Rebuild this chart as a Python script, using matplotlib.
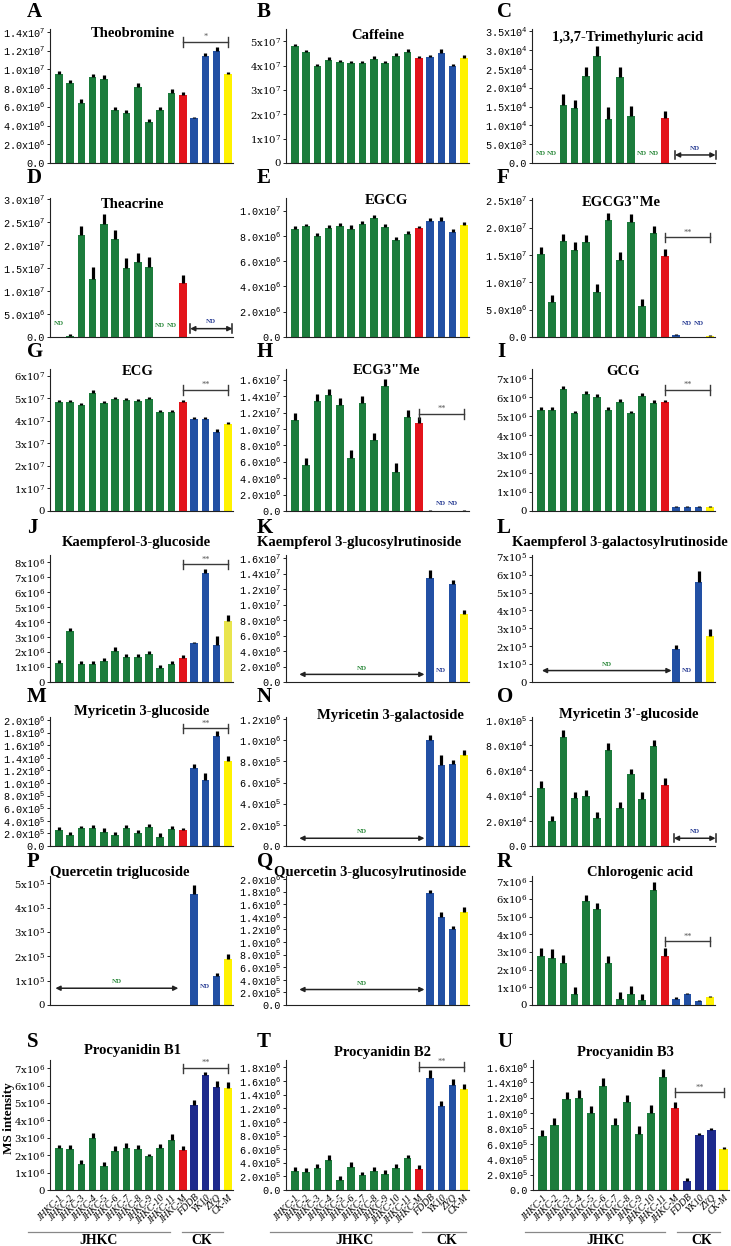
import numpy as np
import matplotlib.pyplot as plt
import matplotlib.transforms as mtransforms

plt.rcParams['font.family'] = ['Liberation Serif', 'DejaVu Serif']
plt.rcParams['mathtext.default'] = 'regular'

W, H = 731, 1246
nan = np.nan

samples = ['JHKC-1', 'JHKC-2', 'JHKC-3', 'JHKC-4', 'JHKC-5', 'JHKC-6', 'JHKC-7',
           'JHKC-8', 'JHKC-9', 'JHKC-10', 'JHKC-11', 'JHKC-M', 'FDDB', 'YK10', 'ZYQ', 'CK-M']

# values, nan = ND
theobromine = [9.5e6, 8.5e6, 6.45e6, 9.2e6, 9.0e6, 5.65e6, 5.3e6, 8.15e6, 4.35e6, 5.65e6, 7.5e6, 7.3e6, 4.75e6, 11.4e6, 12.0e6, 9.5e6]
theobromine_err = [0.35e6, 0.35e6, 0.35e6, 0.35e6, 0.35e6, 0.3e6, 0.35e6, 0.35e6, 0.35e6, 0.35e6, 0.35e6, 0.3e6, 0.2e6, 0.3e6, 0.35e6, 0.25e6]
caffeine = [4.8e7, 4.55e7, 3.98e7, 4.24e7, 4.14e7, 4.1e7, 4.1e7, 4.27e7, 4.1e7, 4.39e7, 4.55e7, 4.31e7, 4.35e7, 4.52e7, 3.97e7, 4.32e7]
caffeine_err = [0.1e7, 0.1e7, 0.1e7, 0.1e7, 0.1e7, 0.1e7, 0.1e7, 0.12e7, 0.1e7, 0.12e7, 0.12e7, 0.08e7, 0.08e7, 0.15e7, 0.1e7, 0.1e7]
trimethyluric = [nan, nan, 15.4e3, 14.6e3, 23.2e3, 28.4e3, 11.8e3, 22.8e3, 12.6e3, nan, nan, 11.9e3, nan, nan, nan, nan]
trimethyluric_err = [0, 0, 2.8e3, 2.1e3, 2.4e3, 2.6e3, 3.0e3, 2.7e3, 2.6e3, 0, 0, 2.0e3, 0, 0, 0, 0]
theacrine = [nan, 0.2e6, 22.3e6, 12.7e6, 24.6e6, 21.4e6, 15.1e6, 16.4e6, 15.3e6, nan, nan, 11.8e6, nan, nan, nan, nan]
theacrine_err = [0, 0.4e6, 1.9e6, 2.5e6, 2.2e6, 2.0e6, 2.2e6, 2.0e6, 2.1e6, 0, 0, 1.8e6, 0, 0, 0, 0]
egcg = [8.55e6, 8.78e6, 8.0e6, 8.65e6, 8.8e6, 8.58e6, 8.98e6, 9.44e6, 8.7e6, 7.68e6, 8.17e6, 8.65e6, 9.16e6, 9.18e6, 8.32e6, 8.9e6]
egcg_err = [0.2e6, 0.2e6, 0.25e6, 0.2e6, 0.2e6, 0.25e6, 0.2e6, 0.25e6, 0.25e6, 0.25e6, 0.2e6, 0.12e6, 0.25e6, 0.3e6, 0.2e6, 0.2e6]
egcg3me = [15.1e6, 6.4e6, 17.5e6, 15.9e6, 17.3e6, 8.3e6, 21.3e6, 14.1e6, 21.1e6, 5.6e6, 19.0e6, 14.8e6, 0.3e6, nan, nan, 0.1e6]
egcg3me_err = [1.4e6, 1.3e6, 1.3e6, 1.4e6, 1.3e6, 1.3e6, 1.3e6, 1.4e6, 1.3e6, 1.3e6, 1.3e6, 1.3e6, 0.3e6, 0, 0, 0.25e6]
ecg = [4.83e7, 4.83e7, 4.69e7, 5.25e7, 4.8e7, 4.95e7, 4.91e7, 4.88e7, 4.95e7, 4.39e7, 4.39e7, 4.83e7, 4.06e7, 4.06e7, 3.5e7, 3.86e7]
ecg_err = [0.1e7, 0.1e7, 0.1e7, 0.1e7, 0.1e7, 0.1e7, 0.1e7, 0.1e7, 0.1e7, 0.1e7, 0.08e7, 0.08e7, 0.1e7, 0.1e7, 0.15e7, 0.1e7]
ecg3me = [11.1e6, 5.56e6, 13.4e6, 14.1e6, 12.9e6, 6.5e6, 13.2e6, 8.7e6, 15.2e6, 4.8e6, 11.4e6, 10.7e6, 0.05e6, nan, nan, 0.05e6]
ecg3me_err = [0.9e6, 0.85e6, 0.85e6, 0.8e6, 0.85e6, 0.9e6, 0.85e6, 0.8e6, 0.9e6, 1.0e6, 0.9e6, 0.8e6, 0.05e6, 0, 0, 0.05e6]
gcg = [5.32e6, 5.36e6, 6.44e6, 5.15e6, 6.2e6, 6.02e6, 5.32e6, 5.76e6, 5.15e6, 6.06e6, 5.71e6, 5.74e6, 0.2e6, 0.2e6, 0.2e6, 0.22e6]
gcg_err = [0.15e6, 0.15e6, 0.15e6, 0.15e6, 0.15e6, 0.15e6, 0.15e6, 0.15e6, 0.15e6, 0.15e6, 0.15e6, 0.12e6, 0.05e6, 0.05e6, 0.05e6, 0.06e6]
kae_glc = [1.27e6, 3.4e6, 1.18e6, 1.18e6, 1.4e6, 2.1e6, 1.67e6, 1.67e6, 1.9e6, 0.96e6, 1.18e6, 1.62e6, 2.6e6, 7.3e6, 2.5e6, 4.1e6]
kae_glc_err = [0.2e6, 0.2e6, 0.2e6, 0.2e6, 0.2e6, 0.25e6, 0.2e6, 0.2e6, 0.2e6, 0.2e6, 0.2e6, 0.2e6, 0.1e6, 0.25e6, 0.6e6, 0.4e6]
kae_glcrut = [nan, nan, nan, nan, nan, nan, nan, nan, nan, nan, nan, nan, 13.45e6, nan, 12.7e6, 8.77e6]
kae_glcrut_err = [0, 0, 0, 0, 0, 0, 0, 0, 0, 0, 0, 0, 1.0e6, 0, 0.5e6, 0.55e6]
kae_galrut = [nan, nan, nan, nan, nan, nan, nan, nan, nan, nan, nan, nan, 1.85e5, nan, 5.6e5, 2.55e5]
kae_galrut_err = [0, 0, 0, 0, 0, 0, 0, 0, 0, 0, 0, 0, 0.2e5, 0, 0.6e5, 0.4e5]
myr_glc = [0.25e6, 0.17e6, 0.28e6, 0.28e6, 0.23e6, 0.17e6, 0.28e6, 0.2e6, 0.3e6, 0.15e6, 0.27e6, 0.25e6, 1.24e6, 1.05e6, 1.75e6, 1.35e6]
myr_glc_err = [0.05e6, 0.05e6, 0.04e6, 0.05e6, 0.05e6, 0.05e6, 0.05e6, 0.06e6, 0.05e6, 0.05e6, 0.04e6, 0.03e6, 0.07e6, 0.11e6, 0.08e6, 0.08e6]
myr_gal = [nan, nan, nan, nan, nan, nan, nan, nan, nan, nan, nan, nan, 1.0e6, 0.77e6, 0.78e6, 0.86e6]
myr_gal_err = [0, 0, 0, 0, 0, 0, 0, 0, 0, 0, 0, 0, 0.05e6, 0.09e6, 0.03e6, 0.05e6]
myr_3pglc = [4.6e4, 2.0e4, 8.67e4, 3.85e4, 3.97e4, 2.2e4, 7.6e4, 3.0e4, 5.7e4, 3.77e4, 7.95e4, 4.87e4, nan, nan, nan, nan]
myr_3pglc_err = [0.55e4, 0.35e4, 0.56e4, 0.45e4, 0.5e4, 0.5e4, 0.55e4, 0.5e4, 0.45e4, 0.5e4, 0.5e4, 0.5e4, 0, 0, 0, 0]
que_triglc = [nan, nan, nan, nan, nan, nan, nan, nan, nan, nan, nan, nan, 4.55e5, nan, 1.2e5, 1.9e5]
que_triglc_err = [0, 0, 0, 0, 0, 0, 0, 0, 0, 0, 0, 0, 0.4e5, 0, 0.12e5, 0.2e5]
que_glcrut = [nan, nan, nan, nan, nan, nan, nan, nan, nan, nan, nan, nan, 1.78e6, 1.4e6, 1.2e6, 1.48e6]
que_glcrut_err = [0, 0, 0, 0, 0, 0, 0, 0, 0, 0, 0, 0, 0.04e6, 0.08e6, 0.06e6, 0.08e6]
chlorogenic = [2.8e6, 2.65e6, 2.4e6, 0.65e6, 5.9e6, 5.45e6, 2.4e6, 0.35e6, 0.65e6, 0.3e6, 6.5e6, 2.8e6, 0.35e6, 0.6e6, 0.25e6, 0.45e6]
chlorogenic_err = [0.45e6, 0.5e6, 0.45e6, 0.35e6, 0.35e6, 0.35e6, 0.4e6, 0.4e6, 0.4e6, 0.3e6, 0.45e6, 0.45e6, 0.08e6, 0.1e6, 0.06e6, 0.06e6]
proc_b1 = [2.4e6, 2.35e6, 1.5e6, 3.0e6, 1.4e6, 2.25e6, 2.4e6, 2.35e6, 1.95e6, 2.4e6, 2.9e6, 2.3e6, 4.9e6, 6.6e6, 5.9e6, 5.85e6]
proc_b1_err = [0.2e6, 0.25e6, 0.2e6, 0.25e6, 0.2e6, 0.25e6, 0.3e6, 0.25e6, 0.1e6, 0.25e6, 0.3e6, 0.2e6, 0.3e6, 0.2e6, 0.35e6, 0.35e6]
proc_b2 = [2.83e5, 2.7e5, 3.2e5, 4.45e5, 1.45e5, 3.45e5, 2.2e5, 2.8e5, 2.4e5, 3.3e5, 4.7e5, 3.1e5, 16.5e5, 12.4e5, 15.5e5, 14.9e5]
proc_b2_err = [0.6e5, 0.6e5, 0.6e5, 0.7e5, 0.6e5, 0.6e5, 0.5e5, 0.6e5, 0.6e5, 0.5e5, 0.5e5, 0.5e5, 1.1e5, 0.7e5, 0.8e5, 0.7e5]
proc_b3 = [7.0e5, 8.4e5, 11.8e5, 11.95e5, 10.0e5, 13.5e5, 8.4e5, 11.4e5, 7.3e5, 10.0e5, 14.7e5, 10.6e5, 1.2e5, 7.1e5, 7.75e5, 5.35e5]
proc_b3_err = [0.8e5, 1.0e5, 1.0e5, 1.1e5, 0.9e5, 1.0e5, 0.9e5, 0.9e5, 1.0e5, 1.0e5, 1.0e5, 0.8e5, 0.4e5, 0.3e5, 0.25e5, 0.3e5]

GREEN, RED, BLUE, NAVY, YELLOW = '#1c7c3c', '#e3141b', '#2250a4', '#1e2a8c', '#fff200'
NDG, NDB = '#2e8b3e', '#2b3f95'
std_cols = [GREEN] * 11 + [RED] + [BLUE] * 3 + [YELLOW]
navy_cols = [GREEN] * 11 + [RED] + [NAVY] * 3 + [YELLOW]
j_cols = [GREEN] * 11 + [RED] + [BLUE] * 3 + ['#e9e54e']

col_x = [50, 286, 532]
row_y = [(29, 163), (198, 337), (369, 511), (555, 682), (717, 846), (876, 1005), (1060, 1190)]
letter_x = [27, 257, 497]
letter_y = [12, 178, 352, 528, 697, 862, 1042]

panels = [
    dict(L='A', t='Theobromine', v=theobromine, e=theobromine_err, ytop=1.43e7, tt=1.4e7, st=2e6, fmt='dec', tp=(0.45, 0.97), br=(1.29e7, '*')),
    dict(L='B', t='Caffeine', v=caffeine, e=caffeine_err, ytop=5.5e7, tt=5e7, st=1e7, fmt='int', tp=(0.5, 0.955)),
    dict(L='C', t='1,3,7-Trimethyluric acid', v=trimethyluric, e=trimethyluric_err, ytop=3.56e4, tt=3.5e4, st=5e3, fmt='dec', tp=(0.52, 0.94),
         nd=[(0, .07, NDG), (1, .07, NDG), (9, .07, NDG), (10, .07, NDG)], span=(11.9, 15.5, .06, NDB, True)),
    dict(L='D', t='Theacrine', v=theacrine, e=theacrine_err, ytop=3.03e7, tt=3e7, st=5e6, fmt='dec', tp=(0.45, 0.95),
         nd=[(0, .1, NDG), (9, .08, NDG), (10, .08, NDG)], span=(11.65, 15.4, .06, NDB, True)),
    dict(L='E', t='EGCG', v=egcg, e=egcg_err, ytop=1.1e7, tt=1e7, st=2e6, fmt='dec', tp=(0.55, 0.985)),
    dict(L='F', t='EGCG3"Me', v=egcg3me, e=egcg3me_err, ytop=2.54e7, tt=2.5e7, st=5e6, fmt='dec', tp=(0.49, 0.97), br=(1.82e7, '**'),
         nd=[(13, .1, NDB), (14, .1, NDB)]),
    dict(L='G', t='ECG', v=ecg, e=ecg_err, ytop=6.3e7, tt=6e7, st=1e7, fmt='int', tp=(0.48, 0.98), br=(5.37e7, '**')),
    dict(L='H', t='ECG3"Me', v=ecg3me, e=ecg3me_err, ytop=1.73e7, tt=1.6e7, st=2e6, fmt='dec', tp=(0.55, 0.99), br=(1.18e7, '**'),
         nd=[(13, .05, NDB), (14, .05, NDB)]),
    dict(L='I', t='GCG', v=gcg, e=gcg_err, ytop=7.5e6, tt=7e6, st=1e6, fmt='int', tp=(0.5, 0.98), br=(6.4e6, '**')),
    dict(L='J', t='Kaempferol-3-glucoside', v=kae_glc, e=kae_glc_err, ytop=8.5e6, tt=8e6, st=1e6, fmt='int', tp=(0.47, 1.1), br=(7.87e6, '**'), cols=j_cols),
    dict(L='K', t='Kaempferol 3-glucosylrutinoside', v=kae_glcrut, e=kae_glcrut_err, ytop=1.64e7, tt=1.6e7, st=2e6, fmt='dec', tp=(0.4, 1.1),
         nd=[(13, .09, NDB)], span=(0.4, 11.5, .06, NDG, False)),
    dict(L='L', t='Kaempferol 3-galactosylrutinoside', v=kae_galrut, e=kae_galrut_err, ytop=7.1e5, tt=7e5, st=1e5, fmt='int', tp=(0.48, 1.1),
         nd=[(13, .09, NDB)], span=(0.1, 11.6, .09, NDG, False)),
    dict(L='M', t='Myricetin 3-glucoside', v=myr_glc, e=myr_glc_err, ytop=2.05e6, tt=2e6, st=2e5, fmt='dec', tp=(0.5, 1.04), br=(1.87e6, '**')),
    dict(L='N', t='Myricetin 3-galactoside', v=myr_gal, e=myr_gal_err, ytop=1.22e6, tt=1.2e6, st=2e5, fmt='dec', tp=(0.57, 1.01),
         span=(0.4, 11.5, .06, NDG, False)),
    dict(L='O', t="Myricetin 3'-glucoside", v=myr_3pglc, e=myr_3pglc_err, ytop=1.025e5, tt=1e5, st=2e4, fmt='dec', tp=(0.53, 1.02),
         span=(11.8, 15.5, .06, NDB, True)),
    dict(L='P', t='Quercetin triglucoside', v=que_triglc, e=que_triglc_err, ytop=5.3e5, tt=5e5, st=1e5, fmt='int', tp=(0.38, 1.03),
         nd=[(13, .14, NDB)], span=(-0.3, 10.6, .13, NDG, False)),
    dict(L='Q', t='Quercetin 3-glucosylrutinoside', v=que_glcrut, e=que_glcrut_err, ytop=2.05e6, tt=2e6, st=2e5, fmt='dec', tp=(0.46, 1.03),
         span=(0.4, 11.5, .12, NDG, False)),
    dict(L='R', t='Chlorogenic acid', v=chlorogenic, e=chlorogenic_err, ytop=7.3e6, tt=7e6, st=1e6, fmt='int', tp=(0.59, 1.03), br=(3.6e6, '**')),
    dict(L='S', t='Procyanidin B1', v=proc_b1, e=proc_b1_err, ytop=7.47e6, tt=7e6, st=1e6, fmt='int', tp=(0.45, 1.07), br=(7.0e6, '**'),
         cols=navy_cols, grp=(-2.73, 9.86, 3.57, 10.93, 14.56, 12.7)),
    dict(L='T', t='Procyanidin B2', v=proc_b2, e=proc_b2_err, ytop=1.91e6, tt=1.8e6, st=2e5, fmt='dec', tp=(0.53, 1.06), br=(1.81e6, '**'),
         grp=(-2.2, 10.4, 5.34, 11.28, 15.18, 13.5)),
    dict(L='U', t='Procyanidin B3', v=proc_b3, e=proc_b3_err, ytop=1.69e6, tt=1.6e6, st=2e5, fmt='dec', tp=(0.47, 1.06), br=(1.27e6, '**'),
         cols=navy_cols, grp=(-1.44, 10.15, 5.26, 11.14, 14.7, 13.2), wid=196),
]


def tick_label(v, style):
    if v == 0:
        return '0.0' if style == 'dec' else '0'
    ex = int(np.floor(np.log10(v) + 1e-9))
    m = v / 10 ** ex
    if style == 'dec':
        return f'{m:.1f}x10$^{{{ex}}}$'
    return f'{m:.0f}x10$^{{{ex}}}$'


fig = plt.figure(figsize=(W / 100, H / 100), dpi=100)

for k, p in enumerate(panels):
    r, c = divmod(k, 3)
    top, bot = row_y[r]
    x0 = col_x[c] + (1 if p.get('wid') else 0)
    w = p.get('wid', 183)
    ax = fig.add_axes([x0 / W, 1 - bot / H, w / W, (bot - top) / H])
    blend = mtransforms.blended_transform_factory(ax.transData, ax.transAxes)

    vals = np.array(p['v'], float)
    errs = np.array(p['e'], float)
    cols = np.array(p.get('cols', std_cols))
    x = np.arange(len(vals))
    ok = ~np.isnan(vals)
    ax.bar(x[ok], vals[ok], width=0.68, color=cols[ok], zorder=2)
    ax.errorbar(x[ok], vals[ok], yerr=[np.zeros(ok.sum()), errs[ok]], fmt='none',
                ecolor='black', elinewidth=2.3, capsize=0, zorder=3)

    ax.set_xlim(-0.78, 15.45)
    ax.set_ylim(0, p['ytop'])
    ticks = np.arange(0, p['tt'] + p['st'] / 2, p['st'])
    ax.set_yticks(ticks)
    fam = 'Liberation Mono' if p['fmt'] == 'dec' else 'DejaVu Serif'
    ax.set_yticklabels([tick_label(t, p['fmt']) for t in ticks], fontsize=7.3, family=fam)
    ax.tick_params(axis='y', length=2.5, width=0.6, pad=1)
    for s in ('top', 'right'):
        ax.spines[s].set_visible(False)
    for s in ('left', 'bottom'):
        ax.spines[s].set_linewidth(0.8)
        ax.spines[s].set_color('#222')

    if 'grp' in p:
        ax.set_xticks(x)
        ax.set_xticklabels(samples, rotation=45, ha='right', va='top', rotation_mode='anchor',
                           fontstyle='italic', fontsize=7)
        ax.tick_params(axis='x', length=0, pad=2)
        jx0, jx1, jt, cx0, cx1, ct = p['grp']
        for a, b in ((jx0, jx1), (cx0, cx1)):
            ax.plot([a, b], [-0.323, -0.323], transform=blend, clip_on=False, color='#888', lw=0.9)
        ax.text(jt, -0.385, 'JHKC', transform=blend, ha='center', va='center', fontsize=10, fontweight='bold')
        ax.text(ct, -0.385, 'CK', transform=blend, ha='center', va='center', fontsize=10, fontweight='bold')
    else:
        ax.set_xticks([])

    ax.text(p['tp'][0], p['tp'][1], p['t'], transform=ax.transAxes, ha='center', va='center',
            fontsize=10.5, fontweight='bold')

    if 'br' in p:
        by, lab = p['br']
        d = p['ytop'] * 0.035
        ax.plot([11, 15], [by, by], color='#3a3a3a', lw=1.0, zorder=4)
        for bx in (11, 15):
            ax.plot([bx, bx], [by - d, by + d], color='#3a3a3a', lw=1.0, zorder=4)
        ax.text(13, by + d * 0.2, lab, ha='center', va='bottom', fontsize=6, color='#555')

    for i, yf, colr in p.get('nd', []):
        ax.text(i, yf, 'ND', transform=blend, ha='center', va='center', fontsize=5,
                fontweight='bold', color=colr)

    if 'span' in p:
        a, b, yf, colr, ends = p['span']
        ax.annotate('', xy=(b, yf), xytext=(a, yf), xycoords=blend, textcoords=blend,
                    arrowprops=dict(arrowstyle='<|-|>', color='#222', lw=1.1, mutation_scale=7,
                                    shrinkA=0, shrinkB=0))
        if ends:
            for xx in (a, b):
                ax.plot([xx, xx], [yf - 0.03, yf + 0.03], transform=blend, color='#222', lw=1.1, clip_on=False)
        ax.text((a + b) / 2, yf + 0.05, 'ND', transform=blend, ha='center', va='center', fontsize=5,
                fontweight='bold', color=colr)

    fig.text(letter_x[c] / W, 1 - letter_y[r] / H, p['L'], fontsize=15, fontweight='bold',
             ha='left', va='center')

fig.text(9 / W, 1 - 1118 / H, 'MS intensity', rotation=90, fontsize=9.5, fontweight='bold',
         ha='center', va='center')

fig.savefig('out.png', dpi=100)
